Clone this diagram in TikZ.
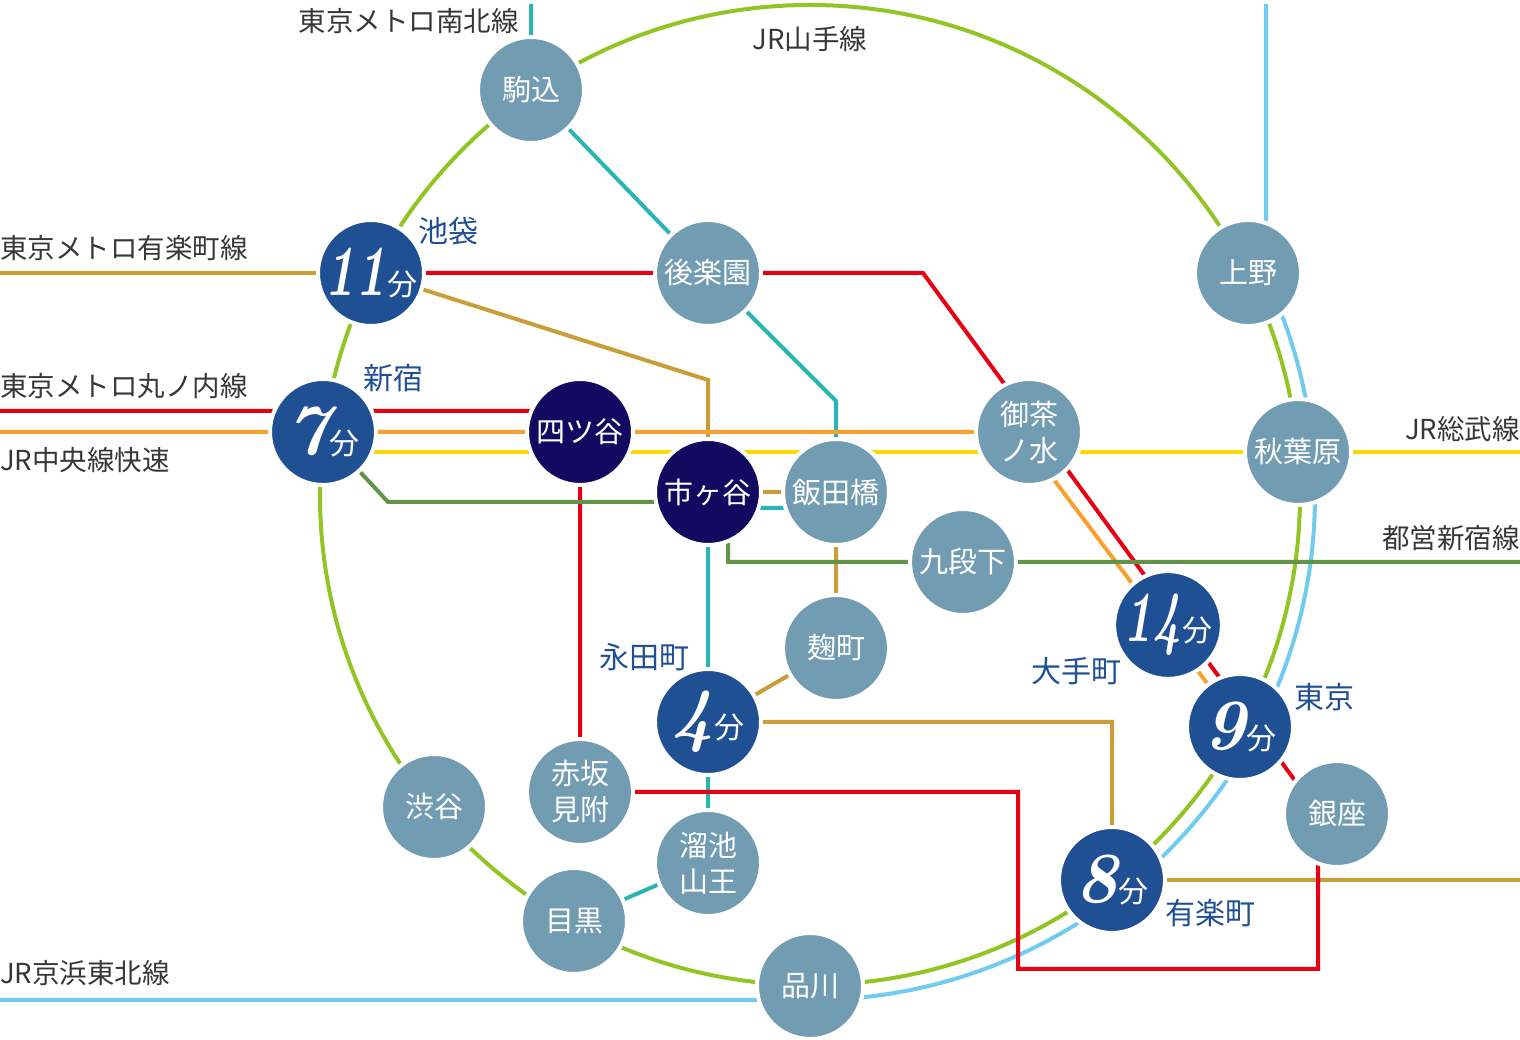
\documentclass[tikz,border=0pt]{standalone}
\usepackage{fontspec}
\newfontfamily\cjk{Noto Sans CJK JP}
\usetikzlibrary{backgrounds}
\definecolor{gris}{RGB}{114,156,178}
\definecolor{bleu}{RGB}{32,80,148}
\definecolor{marine}{RGB}{17,10,96}
\definecolor{encre}{RGB}{55,55,55}
\definecolor{vert}{RGB}{146,196,38}
\definecolor{turquoise}{RGB}{42,180,180}
\definecolor{rouge}{RGB}{230,0,18}
\definecolor{orange}{RGB}{248,160,48}
\definecolor{jaune}{RGB}{255,215,0}
\definecolor{ocre}{RGB}{201,157,56}
\definecolor{sapin}{RGB}{98,148,72}
\definecolor{ciel}{RGB}{112,203,238}
\tikzstyle{gare}=[circle,draw=white,line width=4pt,fill=gris,minimum size=106pt,
        inner sep=0pt,text=white,align=center,font=\cjk\fontsize{29}{36}\selectfont]
\tikzstyle{duree}=[gare,fill=bleu]
\tikzstyle{noeud}=[gare,fill=marine]
\tikzstyle{nomgare}=[text=bleu,inner sep=0pt,font=\cjk\fontsize{30}{30}\selectfont]
\tikzstyle{nomligne}=[text=encre,inner sep=0pt,font=\cjk\fontsize{27.5}{28}\selectfont]
\tikzstyle{voie}=[line width=4pt]
\newcommand{\trajet}[2][1]{\scalebox{#1}[1]{\rmfamily\bfseries\itshape\fontsize{72}{72}\selectfont #2}\kern1pt{\fontsize{30}{30}\selectfont 分}}
\begin{document}
\begin{tikzpicture}[x=1pt,y=1pt]
\useasboundingbox (0,0) rectangle (1520,1040);
\node[gare] (komagome) at (531,950) {駒込};
\node[duree] (ikebukuro) at (371,767) {\trajet[0.72]{11}};
\node[gare] (korakuen) at (708,767) {後楽園};
\node[duree] (shinjuku) at (323,608) {\trajet{7}};
\node[noeud] (yotsuya) at (580,608) {四ツ谷};
\node[noeud] (ichigaya) at (708,548) {市ヶ谷};
\node[gare] (iidabashi) at (836,548) {飯田橋};
\node[gare] (ochanomizu) at (1029,608) {御茶\\ノ水};
\node[gare] (ueno) at (1248,767) {上野};
\node[gare] (akihabara) at (1298,588) {秋葉原};
\node[gare] (kudanshita) at (963,478) {九段下};
\node[gare] (kojimachi) at (836,392) {麹町};
\node[duree] (nagatacho) at (708,318) {\trajet{4}};
\node[duree] (otemachi) at (1168,415) {\trajet[0.68]{14}};
\node[duree] (tokyo) at (1240,313) {\trajet{9}};
\node[gare] (ginza) at (1337,226) {銀座};
\node[duree] (yurakucho) at (1112,160) {\trajet{8}};
\node[gare] (shinagawa) at (810,54) {品川};
\node[gare] (meguro) at (574,119) {目黒};
\node[gare] (tameike) at (708,177) {溜池\\山王};
\node[gare] (akasaka) at (580,248) {赤坂\\見附};
\node[gare] (shibuya) at (434,233) {渋谷};
\node[nomgare] (n-ikebukuro) at (448,809) {池袋};
\node[nomgare] (n-shinjuku) at (393,662) {新宿};
\node[nomgare] (n-nagatacho) at (644,383) {永田町};
\node[nomgare] (n-otemachi) at (1076,369) {大手町};
\node[nomgare] (n-tokyo) at (1324,343) {東京};
\node[nomgare] (n-yurakucho) at (1210,127) {有楽町};
\node[nomligne,anchor=east] (l-nanboku) at (519,1019) {東京メトロ南北線};
\node[nomligne] (l-yamanote) at (810,1001) {JR山手線};
\node[nomligne,anchor=west] (l-yurakucho) at (0,792) {東京メトロ有楽町線};
\node[nomligne,anchor=west] (l-marunouchi) at (0,654) {東京メトロ丸ノ内線};
\node[nomligne,anchor=west] (l-chuo) at (0,580) {JR中央線快速};
\node[nomligne,anchor=east] (l-sobu) at (1520,611) {JR総武線};
\node[nomligne,anchor=east] (l-toei) at (1520,502) {都営新宿線};
\node[nomligne,anchor=west] (l-keihin) at (0,67) {JR京浜東北線};
\coordinate (anneau) at (810,545);
\coordinate (nanboku-n) at (531,1036);
\coordinate (nanboku-a) at (836,639);
\coordinate (nanboku-b) at (836,532);
\coordinate (nanboku-c) at (708,532);
\coordinate (yura-w) at (0,767);
\coordinate (yura-a) at (708,660);
\coordinate (yura-e) at (1520,160);
\coordinate (maru-w) at (0,629);
\coordinate (maru-a) at (923,767);
\coordinate (maru-b) at (1318,228);
\coordinate (maru-c) at (1318,71);
\coordinate (maru-d) at (1018,71);
\coordinate (maru-e) at (1018,248);
\coordinate (chuo-w) at (0,608);
\coordinate (chuo-a) at (1018,608);
\coordinate (sobu-w) at (323,588);
\coordinate (sobu-e) at (1520,588);
\coordinate (toei-a) at (388,538);
\coordinate (toei-b) at (728,538);
\coordinate (toei-c) at (728,478);
\coordinate (toei-e) at (1520,478);
\coordinate (keihin-w) at (0,40);
\coordinate (keihin-n) at (1266,1036);
%lignes sous les gares
\begin{scope}[on background layer]
\draw[voie,vert] (anneau) circle[radius=490];
\draw[voie,ciel] (keihin-w) -- (shinagawa.center |- keihin-w) arc[start angle=-90,end angle=25.4,radius=505] -- (keihin-n);
\draw[voie,turquoise] (nanboku-n) -- (komagome) -- (korakuen) -- (nanboku-a) -- (iidabashi) -- (nanboku-b) -- (nanboku-c) -- (ichigaya) -- (nagatacho) -- (tameike) -- (meguro);
\draw[voie,ocre] (yura-w) -- (ikebukuro) -- (yura-a) -- (ichigaya) -- (iidabashi) -- (kojimachi) -- (nagatacho) -- (nagatacho -| yurakucho) -- (yurakucho) -- (yura-e);
\draw[voie,jaune] (sobu-w) -- (akihabara) -- (sobu-e);
\draw[voie,orange] (chuo-w) -- (chuo-a) -- (tokyo);
\draw[voie,rouge] (maru-w) -- (yotsuya.center |- maru-w) -- (akasaka) -- (maru-e) -- (maru-d) -- (maru-c) -- (maru-b) -- (maru-a) -- (korakuen) -- (ikebukuro);
\draw[voie,sapin] (shinjuku) -- (toei-a) -- (toei-b) -- (toei-c) -- (kudanshita) -- (toei-e);
\end{scope}
\end{tikzpicture}
\end{document}
